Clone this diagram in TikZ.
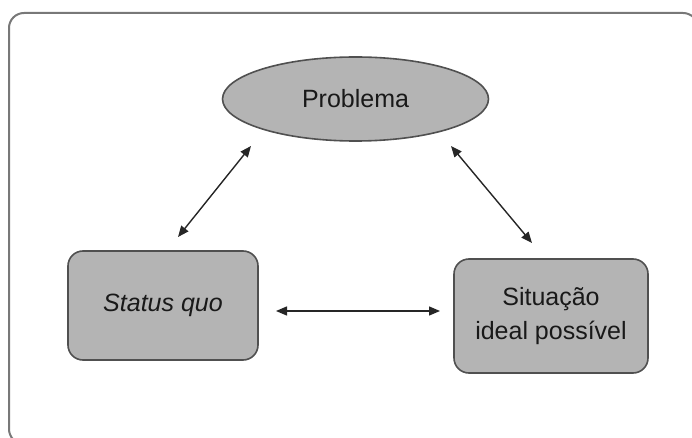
\documentclass[tikz,border=0pt]{standalone}
\usepackage{fontspec}
\setmainfont{Liberation Sans}
\usetikzlibrary{shapes.geometric,arrows.meta}
\definecolor{boxfill}{RGB}{180,180,180}
\definecolor{boxline}{RGB}{80,80,80}
\definecolor{frameline}{RGB}{120,120,120}
\definecolor{txt}{RGB}{25,25,25}
\tikzset{
  shaded/.style={fill=boxfill, draw=boxline, line width=1.6pt, text=txt,
    font=\fontsize{25}{34}\selectfont, inner sep=0pt, align=center},
  stepbox/.style={shaded, rectangle, rounded corners=15pt},
  link/.style={line width=1.4pt, draw=black!85,
    {Triangle[length=11pt,width=9pt]}-{Triangle[length=11pt,width=9pt]}}
}
\begin{document}
\begin{tikzpicture}[x=1pt,y=-1pt]
  \useasboundingbox (0,0) rectangle (692,438);
  \clip (0,0) rectangle (692,438);
  % outer frame
  \draw[frameline, line width=2pt, rounded corners=15pt] (9,13) rectangle (698,444);
  % nodes
  \node[shaded, ellipse, minimum width=266pt, minimum height=84pt] (prob) at (355.5,99) {Problema};
  \node[stepbox, minimum width=190pt, minimum height=109pt] (sq) at (163,305.5) {\itshape Status quo};
  \node[stepbox, minimum width=194pt, minimum height=114pt] (sit) at (551,316) {Situação\\ideal possível};
  % connector ends
  \coordinate (sqTop) at (178,237);
  \coordinate (probL) at (251,146);
  \coordinate (probR) at (451,146);
  \coordinate (sitTop) at (532,243);
  \coordinate (sqR) at (276,311);
  \coordinate (sitL) at (440,311);
  % connectors
  \draw[link] (sqTop) -- (probL);
  \draw[link] (probR) -- (sitTop);
  \draw[link] (sqR) -- (sitL);
\end{tikzpicture}
\end{document}
